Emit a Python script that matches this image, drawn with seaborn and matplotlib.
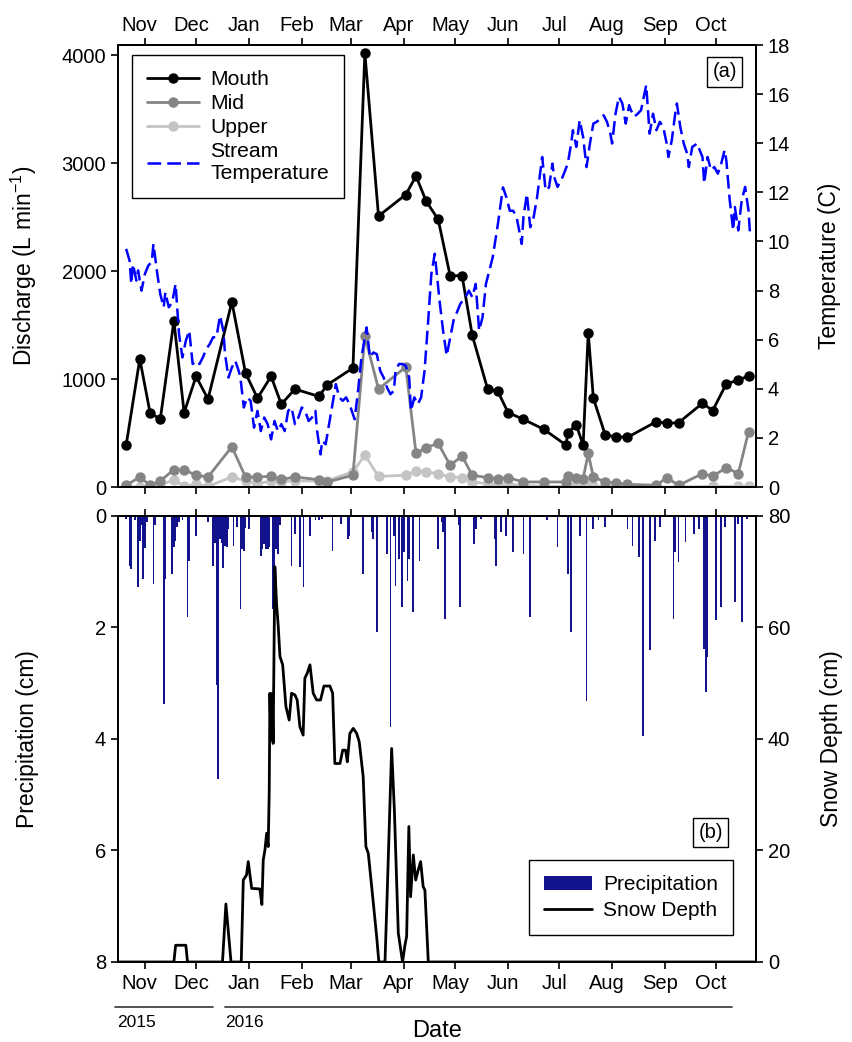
import numpy as np
import pandas as pd
import matplotlib
matplotlib.use('Agg')
import matplotlib.pyplot as plt
import matplotlib.dates as mdates
from matplotlib.patches import Patch
from matplotlib.lines import Line2D
import seaborn as sns

# day offsets are counted from 2015-11-01
start = pd.Timestamp('2015-11-01')

# --- discharge sampling (L/min) ---
sample_day = [-11, -3, 3, 9, 17, 23, 30, 37, 51, 59,
              66, 74, 80, 88, 102, 107, 122, 129, 137, 153,
              159, 165, 172, 179, 186, 192, 201, 207, 213, 222,
              234, 247, 248, 253, 257, 260, 263, 270, 276, 283,
              300, 306, 313, 327, 333, 341, 348, 354]
mouth = [388, 1186, 689, 627, 1537, 689, 1025, 814, 1714, 1056,
         823, 1025, 767, 907, 839, 947, 1102, 4020, 2509, 2708,
         2879, 2646, 2478, 1957, 1957, 1404, 907, 885, 689, 627,
         534, 388, 503, 575, 388, 1429, 823, 481, 466, 460,
         606, 590, 596, 776, 708, 957, 988, 1031]
mid = [16, 93, 16, 56, 161, 161, 109, 93, 373, 93,
       93, 99, 70, 93, 68, 47, 109, 1398, 907, 1112,
       311, 366, 404, 202, 286, 109, 87, 78, 87, 47,
       47, 47, 99, 87, 78, 311, 93, 47, 37, 25,
       16, 87, 16, 124, 99, 180, 124, 512]
upper = [6, 0, 6, 16, 68, 6, 25, 6, 93, 56,
         31, 56, 50, 56, 56, 60, 140, 295, 99, 109,
         149, 140, 124, 93, 87, 47, 31, 16, 25, 16,
         6, 6, 6, 6, 0, 6, 6, 6, 6, 6,
         0, np.nan, 0, np.nan, 6, np.nan, 6, 6]

# --- stream temperature (C) ---
temp_day = [-11, -9, -8, -7, -5, -4, -2, 0, 2, 4,
            5, 7, 9, 11, 12, 14, 16, 18, 20, 22,
            24, 26, 28, 30, 32, 34, 36, 38, 40, 42,
            44, 46, 47, 49, 51, 53, 55, 56, 58, 60,
            62, 64, 66, 68, 70, 72, 74, 76, 78, 80,
            82, 84, 86, 88, 90, 92, 94, 96, 98, 100,
            101, 103, 104, 106, 108, 110, 112, 114, 116, 118,
            120, 122, 123, 125, 127, 129, 130, 132, 134, 136,
            138, 140, 142, 144, 146, 147, 149, 151, 153, 155,
            156, 158, 160, 162, 164, 166, 168, 170, 171, 173,
            175, 177, 181, 185, 188, 190, 192, 194, 196, 198,
            200, 204, 207, 210, 212, 214, 216, 218, 221, 222,
            224, 226, 228, 230, 232, 233, 235, 237, 239, 240,
            242, 245, 248, 250, 251, 253, 255, 257, 259, 261,
            263, 265, 267, 269, 271, 273, 274, 276, 278, 280,
            282, 284, 285, 287, 289, 291, 293, 294, 295, 296,
            298, 300, 302, 304, 306, 307, 309, 311, 312, 314,
            316, 318, 319, 321, 324, 325, 327, 328, 330, 332,
            334, 336, 338, 340, 341, 343, 345, 346, 348, 350,
            352, 354, 355]
temp_c = [9.70, 9.22, 8.27, 9.08, 8.41, 8.82, 8.00, 8.68, 9.02, 9.16,
          9.90, 8.82, 7.86, 7.32, 7.93, 7.32, 7.52, 8.27, 6.23, 5.28,
          5.96, 6.37, 5.01, 5.14, 5.01, 5.28, 5.62, 5.82, 6.10, 6.10,
          6.98, 6.37, 5.41, 4.46, 4.87, 5.14, 4.73, 4.46, 3.24, 3.65,
          3.51, 2.42, 3.10, 2.28, 2.83, 2.56, 1.94, 2.69, 2.28, 2.56,
          2.28, 3.10, 3.24, 2.56, 2.83, 3.24, 3.10, 2.69, 2.83, 3.10,
          2.28, 1.33, 1.88, 1.74, 2.56, 3.37, 4.19, 3.65, 3.51, 3.65,
          3.37, 2.96, 2.76, 3.92, 5.28, 6.10, 6.50, 5.28, 5.48, 5.41,
          4.73, 4.46, 4.05, 3.78, 3.92, 4.73, 5.01, 5.01, 4.94, 4.46,
          3.10, 3.65, 3.37, 3.65, 4.73, 6.64, 8.68, 9.50, 8.82, 7.46,
          6.30, 5.35, 6.78, 7.46, 7.73, 8.00, 7.73, 8.27, 6.37, 6.91,
          8.27, 9.36, 10.70, 12.20, 11.80, 11.25, 11.25, 10.99, 9.90, 10.99,
          11.94, 10.58, 10.99, 11.80, 12.90, 13.44, 12.08, 12.20, 13.17, 12.63,
          12.22, 12.63, 13.17, 13.99, 14.53, 13.85, 14.94, 14.25, 13.03, 13.99,
          14.80, 14.87, 15.00, 15.14, 14.87, 14.39, 13.99, 15.20, 15.89, 15.62,
          14.80, 15.55, 15.35, 15.08, 15.20, 15.35, 16.03, 16.37, 15.35, 14.39,
          15.20, 14.53, 14.87, 14.66, 13.99, 13.44, 14.12, 15.20, 15.62, 14.66,
          13.99, 13.58, 13.03, 13.85, 13.99, 13.78, 13.44, 12.36, 13.44, 12.90,
          13.03, 12.76, 13.17, 13.72, 13.30, 11.67, 10.45, 11.40, 10.45, 11.67,
          12.22, 11.26, 10.17]

# --- daily precipitation (cm) ---
precip_day = [-11, -9, -8, -6, -4, -3, -2, -1, 0, 1,
              5, 6, 11, 12, 16, 17, 18, 19, 20, 22,
              25, 26, 30, 37, 40, 41, 42, 43, 44, 45,
              46, 47, 48, 49, 52, 54, 56, 57, 58, 59,
              61, 68, 69, 70, 71, 72, 73, 75, 76, 77,
              78, 79, 86, 88, 91, 93, 97, 100, 102, 104,
              110, 115, 119, 120, 128, 133, 134, 136, 142, 144,
              146, 147, 149, 151, 152, 154, 155, 157, 161, 172,
              174, 175, 176, 184, 185, 193, 194, 197, 205, 206,
              209, 212, 216, 222, 226, 236, 242, 248, 250, 255,
              259, 263, 266, 270, 283, 286, 290, 292, 296, 299,
              302, 310, 311, 313, 317, 322, 325, 328, 329, 330,
              335, 338, 340, 346, 348, 350, 353]
precip_cm = [0.05, 0.89, 0.95, 0.08, 1.28, 0.44, 0.17, 1.13, 0.58, 0.11,
             1.22, 0.17, 3.37, 1.13, 1.04, 0.56, 0.45, 0.20, 0.11, 0.08,
             1.81, 0.80, 0.36, 0.10, 0.89, 0.49, 3.04, 4.72, 0.41, 0.49,
             0.94, 0.53, 0.55, 0.23, 0.53, 0.20, 1.66, 0.60, 0.62, 0.21,
             0.23, 0.71, 0.60, 0.50, 0.59, 0.60, 0.56, 1.66, 0.89, 0.60,
             0.68, 0.17, 0.89, 0.32, 0.92, 1.28, 0.35, 0.08, 0.08, 0.05,
             0.62, 0.14, 0.41, 0.35, 1.04, 0.29, 0.41, 2.08, 0.68, 3.79,
             0.35, 1.25, 0.77, 1.63, 0.65, 1.16, 0.77, 1.72, 0.80, 0.59,
             0.11, 0.29, 1.84, 0.17, 1.63, 0.50, 0.23, 0.05, 0.41, 0.89,
             0.29, 0.35, 0.65, 0.68, 1.81, 0.08, 0.56, 1.04, 2.08, 0.35,
             3.31, 0.23, 0.08, 0.20, 0.23, 0.53, 0.74, 3.94, 2.41, 0.44,
             0.20, 1.84, 0.65, 0.83, 0.47, 0.32, 0.23, 2.38, 3.16, 2.53,
             1.87, 1.63, 0.20, 1.54, 0.14, 1.90, 0.05]

# --- snow depth (cm) ---
snow_day = [-16, 17, 18, 24, 25, 45.5, 47.5, 50.5, 56.5, 57.7,
            59.6, 60.6, 62.6, 67.4, 68.6, 69.4, 70.4, 71.4, 72.3, 72.9,
            73.3, 73.9, 74.7, 75.2, 76.2, 77.2, 78.2, 79.2, 80.8, 82.7,
            84.6, 86.0, 88.0, 89.3, 90.9, 92.8, 93.8, 95.2, 96.8, 98.7,
            100.7, 103.0, 105.0, 108.5, 110.1, 111.4, 114.4, 116.0, 117.7, 118.7,
            120.2, 122.2, 124.2, 125.7, 128.0, 129.6, 131.0, 133.0, 135.9, 137.2,
            140.8, 142.1, 144.7, 146.3, 148.6, 151.1, 152.5, 153.5, 154.8, 155.8,
            157.4, 158.8, 160.3, 161.7, 163.2, 164.2, 166.2, 358]
snow_cm = [0, 0, 3, 3, 0, 0, 10.4, 0, 0, 14.7,
           15.6, 18.0, 13.2, 13.1, 10.3, 18.3, 20.1, 23.1, 20.7, 30.3,
           48.2, 39.8, 48.2, 39.2, 70.9, 64.3, 60.2, 54.8, 53.3, 45.8,
           43.4, 48.2, 47.9, 47.0, 42.2, 40.7, 50.9, 51.8, 53.3, 48.2,
           47.0, 47.0, 49.5, 49.5, 48.2, 35.6, 35.6, 38.0, 38.0, 35.9,
           41.0, 41.9, 41.0, 39.5, 33.3, 20.7, 19.5, 13.5, 4.6, 0,
           0, 12.3, 38.3, 27.3, 5.2, 0, 3.0, 4.6, 24.3, 11.7,
           19.2, 14.7, 16.5, 18.0, 13.5, 12.9, 0, 0]

month_names = ['Nov', 'Dec', 'Jan', 'Feb', 'Mar', 'Apr', 'May', 'Jun',
               'Jul', 'Aug', 'Sep', 'Oct']


def to_dates(days):
    return start + pd.to_timedelta(np.asarray(days, dtype=float), unit='D')


sns.set_theme(style='ticks')
plt.rcParams['font.family'] = ['Liberation Sans', 'DejaVu Sans']
plt.rcParams['mathtext.default'] = 'regular'
plt.rcParams['axes.linewidth'] = 1.4
for key in ['text.color', 'axes.labelcolor', 'xtick.color', 'ytick.color',
            'axes.edgecolor']:
    plt.rcParams[key] = 'black'

TICK = 14.5
LAB = 16.5
navy = '#12128c'
tblue = '#0000ff'
temp_ls = (0, (5.5, 2.4))

fig = plt.figure(figsize=(8.53, 10.42), dpi=100)
ax1 = fig.add_axes([0.1383, 0.5326, 0.748, 0.4242])
ax2 = ax1.twinx()
ax3 = fig.add_axes([0.1383, 0.0768, 0.748, 0.4280])
ax4 = ax3.twinx()

# ---------------- panel (a) ----------------
q = pd.DataFrame({'date': to_dates(sample_day), 'Mouth': mouth,
                  'Mid': mid, 'Upper': upper})
site_colors = {'Upper': '#c4c4c4', 'Mid': '#858585', 'Mouth': 'black'}
for site in ['Upper', 'Mid', 'Mouth']:
    d = q[['date', site]].dropna()
    sns.lineplot(data=d, x='date', y=site, ax=ax1, color=site_colors[site],
                 lw=2, marker='o', markersize=6.5,
                 markeredgecolor=site_colors[site], markeredgewidth=1,
                 estimator=None, legend=False)

sns.lineplot(x=to_dates(temp_day), y=temp_c, ax=ax2, color=tblue, lw=1.8,
             ls=temp_ls, estimator=None, legend=False)

ax1.set_ylim(0, 4093)
ax1.set_yticks([0, 1000, 2000, 3000, 4000])
ax2.set_ylim(0, 18)
ax2.set_yticks(range(0, 19, 2))
ax1.set_ylabel('Discharge (L min$^{-1}$)', fontsize=LAB)
ax2.set_ylabel('Temperature (C)', fontsize=LAB)
ax1.set_xlabel('')

# ---------------- panel (b) ----------------
ax3.bar(to_dates(precip_day), precip_cm, width=1.05, color=navy,
        edgecolor='none', align='center')
sns.lineplot(x=to_dates(snow_day), y=snow_cm, ax=ax4, color='black', lw=2,
             estimator=None, sort=False, legend=False)

ax3.set_ylim(8, 0)
ax3.set_yticks([0, 2, 4, 6, 8])
ax4.set_ylim(0, 80)
ax4.set_yticks([0, 20, 40, 60, 80])
ax3.set_ylabel('Precipitation (cm)', fontsize=LAB)
ax4.set_ylabel('Snow Depth (cm)', fontsize=LAB)

# ---------------- shared date axis ----------------
month_starts = pd.date_range('2015-11-01', '2016-10-01', freq='MS')
label_pos = month_starts - pd.Timedelta(days=3)
xmin = start - pd.Timedelta(days=15.8)
xmax = start + pd.Timedelta(days=358.4)

for ax in (ax1, ax3):
    ax.set_xlim(xmin, xmax)
    ax.set_xticks(mdates.date2num(month_starts.to_pydatetime()))
    ax.set_xticklabels([''] * len(month_starts))
    ax.set_xticks(mdates.date2num(label_pos.to_pydatetime()), minor=True)
    ax.set_xticklabels(month_names, minor=True)
    ax.tick_params(axis='x', which='major', top=True, bottom=True,
                   direction='out', length=5, width=1.2)
    for sp in ax.spines.values():
        sp.set_linewidth(1.4)

ax1.tick_params(axis='x', which='minor', length=0, top=False, bottom=False,
                labeltop=True, labelbottom=False, labelsize=TICK, pad=7)
ax3.tick_params(axis='x', which='minor', length=0, top=False, bottom=False,
                labeltop=False, labelbottom=True, labelsize=TICK, pad=9)

for ax in (ax1, ax2, ax3, ax4):
    ax.tick_params(axis='y', direction='out', length=5, width=1.2,
                   labelsize=TICK)

ax1.yaxis.set_label_coords(-0.123, 0.5)
ax3.yaxis.set_label_coords(-0.123, 0.5)
ax2.yaxis.set_label_coords(1.097, 0.5)
ax4.yaxis.set_label_coords(1.100, 0.5)

# year brackets and date label
ax3.plot([-0.005, 0.149], [-0.100, -0.100], transform=ax3.transAxes,
         clip_on=False, color='#444444', lw=1.3)
ax3.plot([0.168, 0.962], [-0.100, -0.100], transform=ax3.transAxes,
         clip_on=False, color='#444444', lw=1.3)
ax3.text(-0.002, -0.135, '2015', transform=ax3.transAxes, ha='left',
         va='center', fontsize=12.5)
ax3.text(0.168, -0.135, '2016', transform=ax3.transAxes, ha='left',
         va='center', fontsize=12.5)
ax3.text(0.5, -0.155, 'Date', transform=ax3.transAxes, ha='center',
         va='center', fontsize=17)

# ---------------- legends and panel tags ----------------
handles_a = [
    Line2D([], [], color='black', lw=2, marker='o', ms=6.5),
    Line2D([], [], color='#858585', lw=2, marker='o', ms=6.5),
    Line2D([], [], color='#c4c4c4', lw=2, marker='o', ms=6.5),
    Line2D([], [], color=tblue, lw=1.8, ls=temp_ls),
]
leg_a = ax2.legend(handles_a, ['Mouth', 'Mid', 'Upper', 'Stream\nTemperature'],
                   loc='upper left', bbox_to_anchor=(0.0225, 0.977),
                   borderaxespad=0, fancybox=False, framealpha=1,
                   edgecolor='black', fontsize=15.2, handlelength=2.45,
                   handletextpad=0.55, labelspacing=0.24, borderpad=0.7)
leg_a.get_frame().set_linewidth(1.0)

handles_b = [Patch(facecolor=navy, edgecolor='none'),
             Line2D([], [], color='black', lw=2)]
leg_b = ax4.legend(handles_b, ['Precipitation', 'Snow Depth'],
                   loc='lower right', bbox_to_anchor=(0.964, 0.06),
                   borderaxespad=0, fancybox=False, framealpha=1,
                   edgecolor='black', fontsize=15, handlelength=2.3,
                   handletextpad=0.55, labelspacing=0.33, borderpad=0.72)
leg_b.get_frame().set_linewidth(1.0)

tag_box = dict(boxstyle='square,pad=0.25', fc='white', ec='black', lw=1)
ax2.text(0.951, 0.939, '(a)', transform=ax2.transAxes, ha='center',
         va='center', fontsize=14.5, bbox=tag_box)
ax4.text(0.929, 0.290, '(b)', transform=ax4.transAxes, ha='center',
         va='center', fontsize=14.5, bbox=tag_box)

fig.savefig('out.png', dpi=100)
